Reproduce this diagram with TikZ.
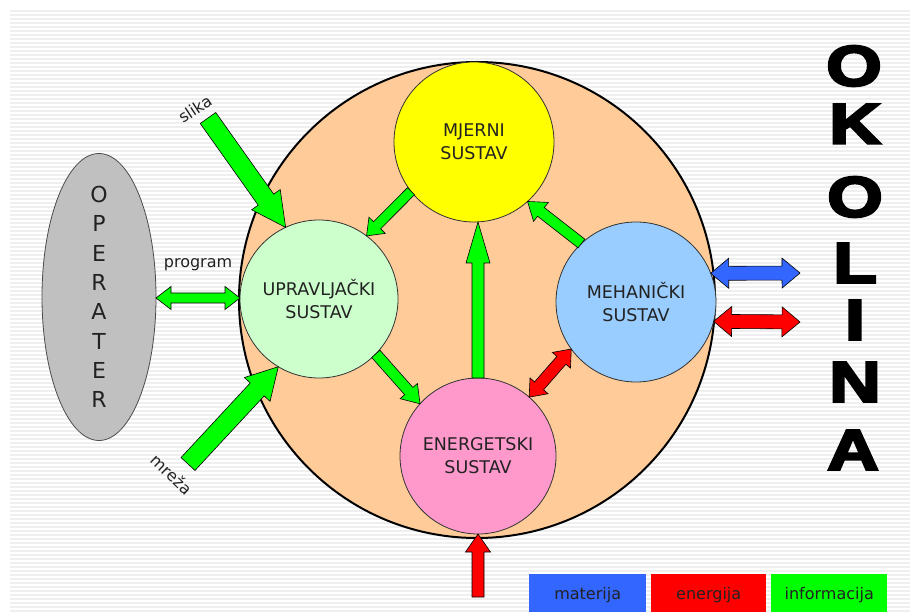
\documentclass[tikz,border=0pt]{standalone}
\usepackage{fontspec}
\setmainfont{DejaVu Sans}
\newfontfamily\okfont{Liberation Sans}[BoldFeatures={FakeBold=4}]
\usetikzlibrary{calc,shapes.geometric}
\definecolor{peach}{HTML}{FFCC99}
\definecolor{sysyellow}{HTML}{FFFF00}
\definecolor{sysgreen}{HTML}{CCFFCC}
\definecolor{sysblue}{HTML}{99CCFF}
\definecolor{syspink}{HTML}{FF99CC}
\definecolor{opgray}{HTML}{C0C0C0}
\definecolor{infogreen}{HTML}{00FF00}
\definecolor{enred}{HTML}{FF0000}
\definecolor{matblue}{HTML}{3366FF}
\definecolor{txt}{HTML}{222222}
\definecolor{stripe}{HTML}{EFEFEF}
\newcommand\fatarrow[6]{%
  \coordinate (fah) at ($(#3)!#6!(#2)$);
  \draw[#1] ($(#2)!#4!90:(#3)$) -- ($(fah)!#4!90:(#3)$) -- ($(fah)!#5!90:(#3)$) -- (#3)
    -- ($(fah)!#5!-90:(#3)$) -- ($(fah)!#4!-90:(#3)$) -- ($(#2)!#4!-90:(#3)$) -- cycle;}
\newcommand\dblarrow[6]{%
  \coordinate (dah) at ($(#2)!#6!(#3)$);
  \coordinate (dak) at ($(#3)!#6!(#2)$);
  \draw[#1] (#2) -- ($(dah)!#5!90:(#3)$) -- ($(dah)!#4!90:(#3)$) -- ($(dak)!#4!90:(#3)$)
    -- ($(dak)!#5!90:(#3)$) -- (#3) -- ($(dak)!#5!-90:(#3)$) -- ($(dak)!#4!-90:(#3)$)
    -- ($(dah)!#4!-90:(#3)$) -- ($(dah)!#5!-90:(#3)$) -- cycle;}
\tikzset{
  sys/.style={circle, draw=black!80, line width=0.8pt, inner sep=0pt, outer sep=0pt,
    align=center, text=txt, font=\fontsize{17.5}{23}\selectfont},
  infoarrow/.style={fill=infogreen, draw=black, line width=0.6pt, line join=miter},
  enarrow/.style={fill=enred, draw=black, line width=0.6pt, line join=miter},
  matarrow/.style={fill=matblue, draw=black, line width=0.6pt, line join=miter},
  lbl/.style={text=txt, inner sep=0pt, font=\fontsize{16}{19}\selectfont},
  legbox/.style={anchor=north west, minimum height=42pt, inner sep=0pt, text=txt,
    font=\fontsize{16}{19}\selectfont},
  okletter/.style={inner sep=0pt, xscale=1.25, font=\okfont\bfseries\fontsize{57}{60}\selectfont}
}
\begin{document}
\begin{tikzpicture}[x=1pt,y=-1pt]
\useasboundingbox (0,0) rectangle (910,612);
\fill[white] (0,0) rectangle (910,612);
\foreach \yy in {11,15,...,611} \draw[stripe, line width=1.3pt] (10,\yy) -- (910,\yy);

% big circle
\node[circle, fill=peach, draw=black, line width=2pt, minimum size=476pt, inner sep=0pt, outer sep=0pt] (big) at (477,300) {};

% subsystems
\node[sys, fill=sysyellow, minimum size=160pt] (mj) at (474,142) {MJERNI\\SUSTAV};
\node[sys, fill=sysgreen, minimum size=158pt] (up) at (319,299) {UPRAVLJAČKI\\SUSTAV};
\node[sys, fill=sysblue, minimum size=160pt] (me) at (636,302) {MEHANIČKI\\SUSTAV};
\node[sys, fill=syspink, minimum size=156pt] (en) at (478,456) {ENERGETSKI\\SUSTAV};

% operator
\node[ellipse, fill=opgray, draw=black!70, line width=0.8pt, minimum width=114pt, minimum height=287pt,
  inner sep=0pt, outer sep=0pt] (op) at (99,297) {};
\node[align=center, inner sep=0pt, text=txt, font=\fontsize{22}{29.3}\selectfont] (optxt) at (op.center)
  {O\\P\\E\\R\\A\\T\\E\\R};

% internal arrows
\fatarrow{infoarrow}{mj.218}{up.53}{5pt}{11.5pt}{15pt}
\fatarrow{infoarrow}{up.-44.5}{en.138.6}{5.5pt}{11.5pt}{17pt}
\coordinate (mjb) at (en.north |- mj.south);
\fatarrow{infoarrow}{en.north}{mjb}{6pt}{12pt}{41pt}
\fatarrow{infoarrow}{me.133.5}{mj.-48}{5.5pt}{12pt}{17pt}
\dblarrow{enarrow}{me.216.7}{en.49.6}{6pt}{12pt}{15pt}

% inputs
\coordinate (slt) at (208,118);
\fatarrow{infoarrow}{slt}{up.115}{9.5pt}{17.5pt}{34pt}
\coordinate (mrt) at (188,464);
\fatarrow{infoarrow}{mrt}{up.239}{9.5pt}{17.5pt}{31pt}
\coordinate (opr) at (op.east |- 0,298);
\coordinate (upl) at (up.west |- 0,298);
\dblarrow{infoarrow}{opr}{upl}{5pt}{11.5pt}{15pt}

% environment arrows
\coordinate (bre) at (800,273);
\dblarrow{matarrow}{me.21.3}{bre}{7pt}{15pt}{18pt}
\coordinate (rre) at (800,322);
\dblarrow{enarrow}{me.-14.5}{rre}{7pt}{15pt}{18pt}
\coordinate (bot) at (478,597);
\fatarrow{enarrow}{bot}{en.south}{6pt}{12.5pt}{18pt}

% labels
\node[lbl, rotate=33] (slbl) at (195,109) {slika};
\node[lbl, rotate=-44] (mlbl) at (172,474) {mreža};
\node[lbl] (plbl) at (198,265) {program};

% OKOLINA
\node[okletter] (ok1) at (854,66) {O};
\node[okletter] (ok2) at (855,124) {K};
\node[okletter] (ok3) at (855,197) {O};
\node[okletter] (ok4) at (855,263) {L};
\node[okletter] (ok5) at (855,320) {I};
\node[okletter] (ok6) at (855,382) {N};
\node[okletter] (ok7) at (853,450) {A};

% legend
\node[legbox, fill=matblue, minimum width=117pt] (lm) at (529,574) {materija};
\node[legbox, fill=enred, minimum width=115pt] (le) at (651,574) {energija};
\node[legbox, fill=infogreen, minimum width=116pt] (li) at (771,574) {informacija};
\end{tikzpicture}
\end{document}
